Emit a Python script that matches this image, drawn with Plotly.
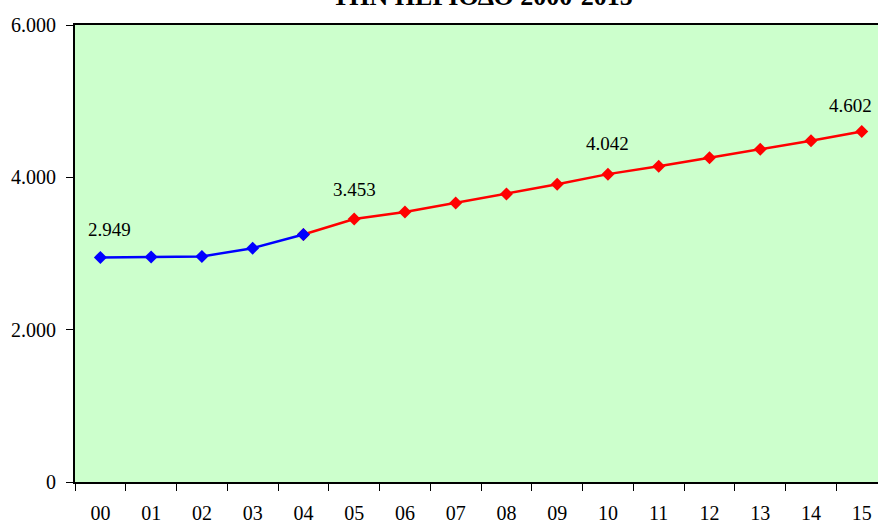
import plotly.graph_objects as go

# years 2000-2015 shown as two-digit labels
years = ["00", "01", "02", "03", "04", "05", "06", "07",
         "08", "09", "10", "11", "12", "13", "14", "15"]
values = [2949, 2955, 2962, 3070, 3250, 3453, 3545, 3663,
          3781, 3908, 4042, 4145, 4258, 4368, 4481, 4602]
# actual part (blue) ends at 04, projection (red) starts there
split = 4
labelled = [0, 5, 10, 15]
title_text = "ΤΗΝ ΠΕΡΙΟΔΟ 2000-2015"

FONT = "Liberation Serif, Times New Roman, serif"

fig = go.Figure()
fig.add_trace(go.Scatter(
    x=years[split:], y=values[split:], mode="lines+markers",
    line=dict(color="#FF0000", width=2.5),
    marker=dict(symbol="diamond", size=10, color="#FF0000"),
    showlegend=False))
fig.add_trace(go.Scatter(
    x=years[:split + 1], y=values[:split + 1], mode="lines+markers",
    line=dict(color="#0000FF", width=2.5),
    marker=dict(symbol="diamond", size=10, color="#0000FF"),
    showlegend=False))

# value labels above selected points
shifts = {0: (9, 28), 5: (0, 30), 10: (0, 31), 15: (-11, 26)}
for i in labelled:
    dx, dy = shifts[i]
    fig.add_annotation(x=years[i], y=values[i], xref="x", yref="y",
        text=f"{values[i]:,}".replace(",", "."), showarrow=False,
        xshift=dx, yshift=dy, font=dict(family=FONT, size=19, color="black"))

# title, partly cut off at the top of the image
fig.add_annotation(x=0.507, y=1, xref="paper", yref="paper",
    xanchor="center", yanchor="bottom", yshift=12, showarrow=False,
    text=f"<b>{title_text}</b>",
    font=dict(family=FONT, size=26, color="black"))

fig.update_layout(
    width=878, height=523,
    margin=dict(l=75, r=0, t=25, b=41),
    paper_bgcolor="white", plot_bgcolor="#CCFFCC",
    separators=",.",
    font=dict(family=FONT, size=20, color="black"),
    xaxis=dict(type="category", categoryorder="array", categoryarray=years,
        range=[-0.5, 15.32], automargin=False,
        showline=True, linecolor="black", linewidth=2, mirror=True,
        ticks="outside", tickson="boundaries", ticklen=7, tickcolor="black",
        ticklabelstandoff=12, showgrid=False, zeroline=False),
    yaxis=dict(range=[0, 6000], dtick=2000, tickformat=",d", automargin=False,
        showline=True, linecolor="black", linewidth=2,
        ticks="outside", ticklen=7, tickcolor="black",
        ticklabelstandoff=6, showgrid=False, zeroline=False),
)

# drop the default body margin so the figure sits at the page corner
fig.write_html("out.html", config={"displayModeBar": False},
               post_script="document.body.style.margin='0px';")
